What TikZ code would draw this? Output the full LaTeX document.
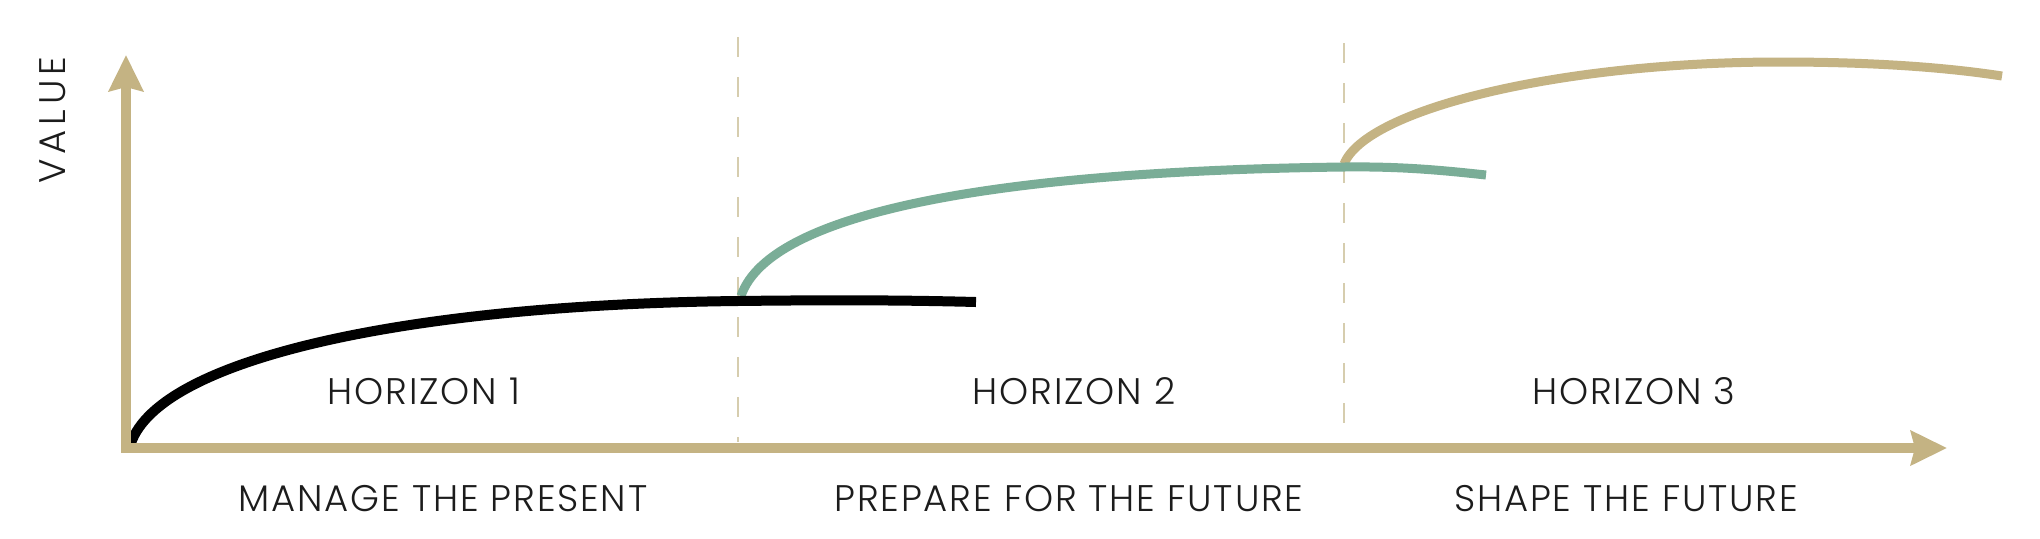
\documentclass[tikz,border=0pt]{standalone}
\usepackage{fontspec}
\setmainfont{Poppins Light}[LetterSpace=5]
\usetikzlibrary{arrows.meta}
\definecolor{axistan}{HTML}{C4B383}
\definecolor{curvegreen}{HTML}{7AAD97}
\definecolor{dashtan}{HTML}{D6CDAE}
\definecolor{txt}{HTML}{1C1C1C}
\begin{document}
\begin{tikzpicture}[x=0.5pt,y=-0.5pt,
  axisline/.style={draw=axistan, line width=5pt, line join=miter,
    arrows={Stealth[length=18pt,width=17pt,inset=2pt]-Stealth[length=18pt,width=17pt,inset=2pt]}},
  divider/.style={draw=dashtan, line width=1pt, dash pattern=on 10pt off 10pt},
  curveA/.style={draw=black, line width=5pt},
  curveB/.style={draw=curvegreen, line width=4.5pt},
  curveC/.style={draw=axistan, line width=4.5pt},
  lbl/.style={font=\fontsize{18.5}{22}\selectfont, text=txt, inner sep=0pt, anchor=base}]
\path[use as bounding box] (0,0) rectangle (2040,538);
\fill[white] (0,0) rectangle (2040,538);
% key coordinates
\coordinate (ytip) at (126,55);
\coordinate (origin) at (126,448);
\coordinate (xtip) at (1947,448);
\coordinate (d1top) at (738,37);
\coordinate (d1bot) at (738,442);
\coordinate (d2top) at (1344,43);
\coordinate (d2bot) at (1344,442);
\coordinate (aS) at (131,443);
\coordinate (aM) at (737,301);
\coordinate (aE) at (976,302);
\coordinate (bS) at (741,296);
\coordinate (bM) at (1344,167);
\coordinate (bE) at (1486,175);
\coordinate (cS) at (1344,164);
\coordinate (cM) at (1780,62);
\coordinate (cE) at (2002,76);
% dividers
\draw[divider] (d1top) -- (d1bot);
\draw[divider] (d2top) -- (d2bot);
% curves
\draw[curveC] (cS) .. controls (1366,109) and (1560,62) .. (cM)
  .. controls (1880,62) and (1950,68) .. (cE);
\draw[curveB] (bS) .. controls (770,210) and (1007,171) .. (bM)
  .. controls (1400,166.3) and (1440,170) .. (bE);
\draw[curveA] (aS) .. controls (160,360) and (400,305) .. (aM)
  .. controls (830,299.9) and (900,300) .. (aE);
% axes
\draw[axisline] (ytip) -- (origin) -- (xtip);
% labels
\node[lbl, rotate=90, font=\fontsize{18.5}{22}\selectfont\addfontfeature{LetterSpace=13}] (yl) at (65,120) {VALUE};
\node[lbl] (h1) at (424,404) {HORIZON 1};
\node[lbl] (h2) at (1074,404) {HORIZON 2};
\node[lbl] (h3) at (1634,404) {HORIZON 3};
\node[lbl] (m1) at (443,511) {MANAGE THE PRESENT};
\node[lbl] (m2) at (1069,511) {PREPARE FOR THE FUTURE};
\node[lbl] (m3) at (1626,511) {SHAPE THE FUTURE};
\end{tikzpicture}
\end{document}
